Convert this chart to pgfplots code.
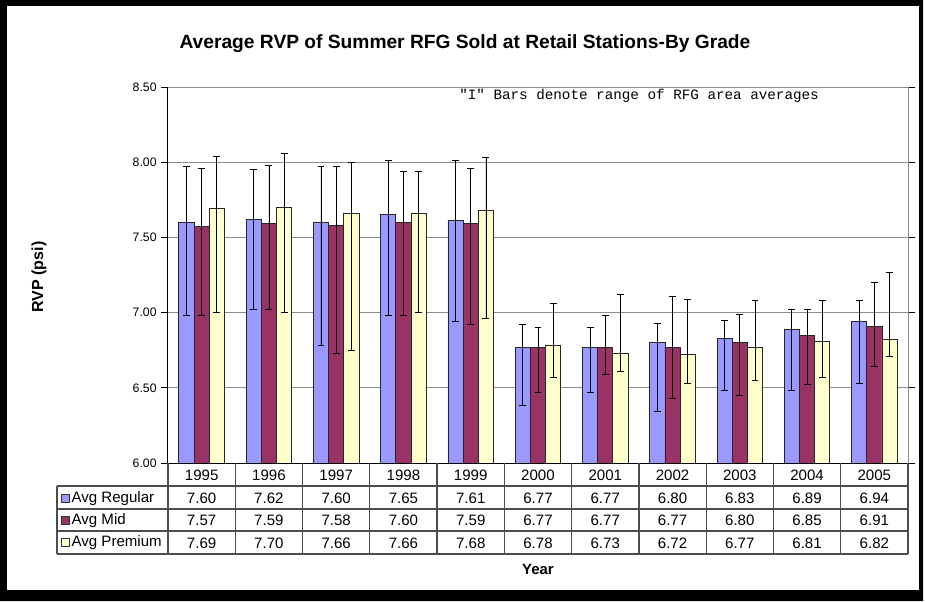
\documentclass[border=0pt]{standalone}
\usepackage{pgfplots}
\usepackage{pgfplotstable}
\usepackage{fontspec}
\setmainfont{Liberation Sans}
\setmonofont{Liberation Mono}
\pgfplotsset{compat=1.18}
\definecolor{creg}{HTML}{9999FF}
\definecolor{cmid}{HTML}{993366}
\definecolor{cprem}{HTML}{FFFFCC}

\pgfplotstableread{
x year reg regLo regHi mid midLo midHi prem premLo premHi
0 1995 7.60 6.98 7.97 7.57 6.98 7.96 7.69 7.00 8.04
1 1996 7.62 7.02 7.95 7.59 7.02 7.98 7.70 7.00 8.06
2 1997 7.60 6.78 7.97 7.58 6.73 7.97 7.66 6.75 8.00
3 1998 7.65 6.98 8.01 7.60 6.98 7.94 7.66 7.00 7.94
4 1999 7.61 6.94 8.01 7.59 6.92 7.96 7.68 6.96 8.03
5 2000 6.77 6.38 6.92 6.77 6.47 6.90 6.78 6.57 7.06
6 2001 6.77 6.47 6.90 6.77 6.59 6.98 6.73 6.61 7.12
7 2002 6.80 6.34 6.93 6.77 6.43 7.11 6.72 6.53 7.09
8 2003 6.83 6.48 6.95 6.80 6.45 6.99 6.77 6.55 7.08
9 2004 6.89 6.48 7.02 6.85 6.52 7.02 6.81 6.57 7.08
10 2005 6.94 6.53 7.08 6.91 6.64 7.20 6.82 6.71 7.27
}\data

\newcommand\cellval[1]{\pgfplotstablegetelem{\ticknum}{#1}\of\data\pgfplotsretval}
\newcommand\tcell[1]{\rule[-4.6pt]{0pt}{17pt}\cellval{#1}}

\begin{document}
\begin{tikzpicture}
\begin{scope}[x=0.75pt, y=-0.75pt, shift={(-126pt,347.25pt)}]
\path[use as bounding box] (0,0) rectangle (925,601);
\end{scope}
\begin{axis}[
  name=ax, at={(0,0)}, anchor=south west, scale only axis,
  width=555pt, height=282pt,
  ybar=0pt, bar width=11.4pt,
  xmin=-0.5, xmax=10.5, ymin=6, ymax=8.5,
  ytick={6,6.5,7,7.5,8,8.5},
  ymajorgrids, grid style={black!45, line width=0.6pt},
  xtick={0,...,10},
  xtick style={draw=none},
  tick align=outside, major tick length=5pt,
  ytick style={black, line width=0.6pt},
  axis line style={draw=none},
  yticklabel style={font=\fontsize{9.2}{11}\selectfont, /pgf/number format/.cd, fixed, fixed zerofill, precision=2, assume math mode=true},
  xticklabel={\renewcommand\arraystretch{0}\begin{tabular}{@{}c@{}}\tcell{year}\\\tcell{reg}\\\tcell{mid}\\\tcell{prem}\end{tabular}},
  xticklabel style={font=\fontsize{11.3}{13}\selectfont, anchor=north, inner sep=0pt, yshift=4.5pt},
  clip=false,
]
\addplot[fill=creg, draw=black!85, line width=0.6pt,
  error bars/.cd, y dir=both, y explicit,
  error bar style={black, line width=0.6pt},
  error mark options={rotate=90, black, mark size=2.6pt, line width=0.6pt}]
  table[x=x, y=reg, y error plus expr=\thisrow{regHi}-\thisrow{reg}, y error minus expr=\thisrow{reg}-\thisrow{regLo}] {\data};
\addplot[fill=cmid, draw=black!85, line width=0.6pt,
  error bars/.cd, y dir=both, y explicit,
  error bar style={black, line width=0.6pt},
  error mark options={rotate=90, black, mark size=2.6pt, line width=0.6pt}]
  table[x=x, y=mid, y error plus expr=\thisrow{midHi}-\thisrow{mid}, y error minus expr=\thisrow{mid}-\thisrow{midLo}] {\data};
\addplot[fill=cprem, draw=black!85, line width=0.6pt,
  error bars/.cd, y dir=both, y explicit,
  error bar style={black, line width=0.6pt},
  error mark options={rotate=90, black, mark size=2.6pt, line width=0.6pt}]
  table[x=x, y=prem, y error plus expr=\thisrow{premHi}-\thisrow{prem}, y error minus expr=\thisrow{prem}-\thisrow{premLo}] {\data};
\end{axis}
\begin{scope}[x=0.75pt, y=-0.75pt, shift={(-126pt,347.25pt)}]
% outer frame
\fill[black, even odd rule] (0,0) rectangle (923,601) (7,6) rectangle (919,590);
% plot area border
\draw[black!45, line width=0.75pt] (168,87) -- (908,87) -- (908,463);
\draw[black, line width=0.75pt] (168,87) -- (168,463) -- (908,463);
% data table lines
\foreach \yy in {486,509,531,554} \draw[black!70, line width=0.9pt] (57,\yy) -- (908,\yy);
\draw[black!70, line width=0.9pt] (57,486) -- (57,554);
\foreach \k in {0,...,11} \draw[black!70, line width=0.9pt] ({168+\k*67.2727},463) -- ({168+\k*67.2727},554);
% legend keys
\filldraw[fill=creg, draw=black!80, line width=0.5pt] (61,494) rectangle (69,502);
\filldraw[fill=cmid, draw=black!80, line width=0.5pt] (61,516) rectangle (69,524);
\filldraw[fill=cprem, draw=black!80, line width=0.5pt] (61,538) rectangle (69,546);
\node[anchor=west, inner sep=1pt, font=\fontsize{11.3}{13}\selectfont] at (70,498.5) {Avg Regular};
\node[anchor=west, inner sep=1pt, font=\fontsize{11.3}{13}\selectfont] at (70,520.5) {Avg Mid};
\node[anchor=west, inner sep=1pt, font=\fontsize{11.3}{13}\selectfont] at (70,542.5) {Avg Premium};
% texts
\node[font=\bfseries\fontsize{14.4}{17}\selectfont] at (465,44) {Average RVP of Summer RFG Sold at Retail Stations-By Grade};
\node[rotate=90, font=\bfseries\fontsize{12}{14}\selectfont] at (39,277) {RVP (psi)};
\node[font=\bfseries\fontsize{11.2}{13}\selectfont] at (538,569) {Year};
\node[anchor=west, inner sep=0pt, font=\ttfamily\fontsize{10.7}{12}\selectfont] at (459,96) {"I" Bars denote range of RFG area averages};
\end{scope}
\end{tikzpicture}
\end{document}
